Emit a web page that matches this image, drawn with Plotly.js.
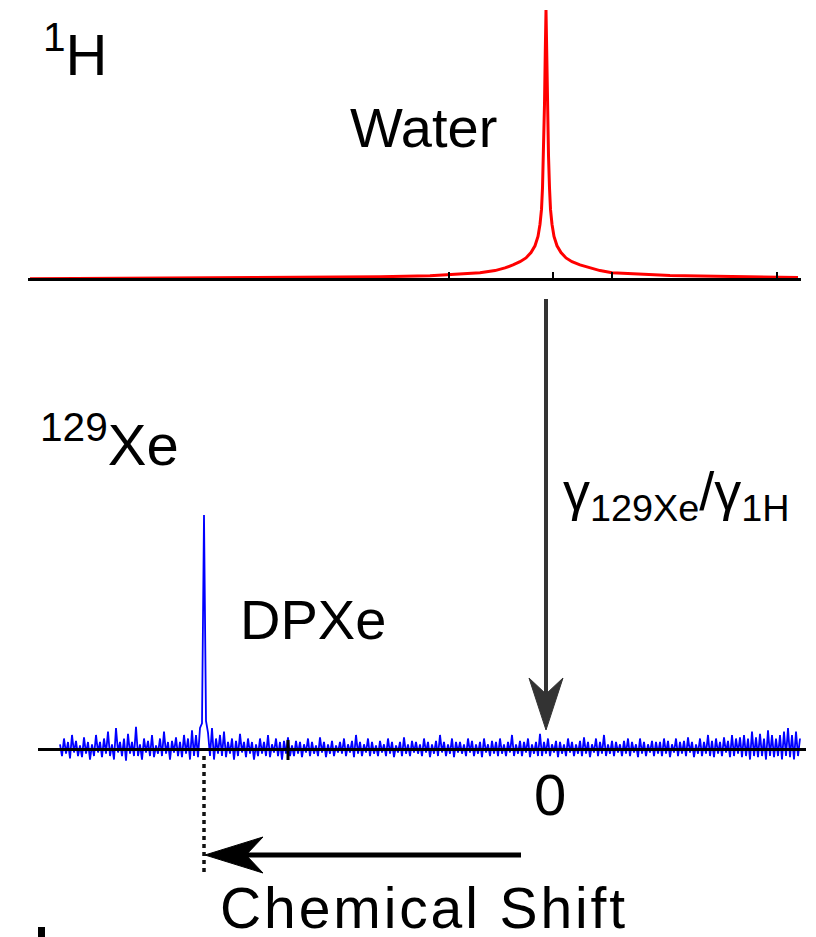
<!DOCTYPE html>
<html><head><meta charset="utf-8">
<script src="https://cdn.plot.ly/plotly-3.0.1.min.js"></script>
<style>
html,body{margin:0;padding:0;background:#fff}
#chart{width:816px;height:937px}
#chart .annotation[data-index="6"] .annotation-text{letter-spacing:2.9px}
</style>
</head><body><div id="chart"></div>
<script>
// ---- 1H spectrum: chemical shift (arb. units, 0 = water) and intensity (% of max)
const waterShift = [258, 223, 173, 123, 83, 58, 43, 33, 25.5, 20.5, 16.5, 13, 10, 7.5, 5.5, 4, 3, 2.25, 1.75, 1.25, 0.75, 0.35, 0,
  -0.35, -0.75, -1.25, -1.75, -2.25, -3, -4, -5.5, -7.5, -10, -13, -17, -22, -27, -33, -47, -62, -77, -102, -126];
const waterIntensity = [0.3, 0.4, 0.55, 0.75, 1.0, 1.4, 1.9, 2.5, 3.3, 4.3, 5.4, 6.6, 8, 10, 12.5, 16, 20.5, 26, 34, 46, 65, 85, 100,
  85, 65, 46, 34, 26, 20.5, 16, 12.5, 10, 8, 6.6, 5.4, 4.3, 3.3, 2.5, 1.9, 1.5, 1.3, 1.0, 0.7];

// ---- 129Xe spectrum: sampled every 1 unit from shift 243 downward; intensity (% of DPXe peak)
const xeShiftStart = 243;
const xeShiftStep = -1;
const xeIntensity = [
 2, -3, 4.5, -2, 3, -4, 6, -1.5, 3.5, -3, 1.5, -3.5, 5, -2, 3, -4.5, 2, -3, 6, -1.5,
 3, -3.5, 4.5, -2, 7.5, -3, 2, -4.5, 9, -1.5, 3, -3, 4.5, -5, 6.5, -2, 3, -3, 9.5, -3,
 2, -4.5, 4.5, -1.5, 3.5, -3, 6, -3.5, 1.5, -2, 4.5, -3, 7.5, -2, 3, -4.5, 3.5, -1.5, 5, -3,
 3, -3.5, 6, -2, 4.5, -4.5, 8, -3, 6, -3.5, 9, 11, 100, 12, 7, -3, 9, -4.5, 4.5, -2,
 6, -3, 7.5, -3.5, 3, -2, 4.5, -4.5, 3.5, -3, 6.5, -1.5, 3, -3.5, 4.5, -2, 3, -4.5, 2, -3,
 4.5, -2, 3, -3, 6, -3.5, 2, -1.5, 4.5, -3, 3, -4.5, 3.5, -2, 5, -3, 1.5, -3, 3.5, -2,
 3, -3.5, 2, -1.5, 4.5, -3, 3, -2, 1.5, -3, 5, -1.5, 3, -3.5, 2, -2, 3.5, -3, 1.5, -1.5,
 3, -2, 4.5, -3, 2, -1.5, 3.5, -3.5, 6, -2, 3, -3, 2, -1.5, 4.5, -3, 3, -2, 1.5, -3,
 3.5, -1.5, 2, -3, 4.5, -2, 3, -3.5, 1.5, -1.5, 3, -3, 5, -2, 2, -3, 3.5, -1.5, 3, -2,
 2, -3, 4.5, -1.5, 3, -3.5, 2, -2, 3.5, -3, 6, -1.5, 3, -3, 2, -2, 4.5, -3.5, 3, -1.5,
 3, -2, 2, -3, 4.5, -1.5, 3.5, -3, 2, -2, 3, -3.5, 4.5, -1.5, 2, -3, 3.5, -2, 3, -3,
 4.5, -2, 2, -3, 3, -1.5, 6, -3, 2, -2, 3.5, -3, 3, -1.5, 4.5, -3.5, 2, -2, 3, -3,
 6.5, -3, 3, -2, 4.5, -3, 2, -1.5, 3.5, -3.5, 3, -2, 2, -3, 4.5, -1.5, 3, -3, 2, -2,
 3.5, -3, 5, -2, 3, -3.5, 2, -1.5, 4.5, -3, 3, -2, 6, -3, 2, -2, 3.5, -3, 3, -1.5,
 2, -3, 3.5, -2, 4.5, -3, 3, -1.5, 2, -3.5, 4.5, -2, 3, -3, 2, -1.5, 3.5, -3, 3, -2,
 3, -3, 4.5, -2, 3.5, -3.5, 2, -1.5, 4.5, -3, 3, -2, 3.5, -3, 5, -1.5, 3, -3.5, 2, -2,
 4.5, -3, 3, -2, 6, -3, 3.5, -3.5, 4.5, -2, 3, -3, 5, -1.5, 3.5, -3.5, 6, -3, 4.5, -2,
 5, -3.5, 6, -3, 4.5, -4.5, 7.5, -3, 5, -3.5, 6.5, -3, 4.5, -4.5, 8, -3, 6, -3.5, 4.5, -3,
 6, -4.5, 7.5, -3, 9, -3.5, 6, -4.5, 7.5, -3, 4.5
];

// ---- axis ticks
const hTickVals = [48.5, -3.5, -33, -115.5];
const xeTickVals = [129];
const zeroLabel = '0';

// ---- texts
const labelH = '<sup>1</sup>H';
const labelWater = 'Water';
const labelXe = '<sup>129</sup>Xe';
const labelGamma = 'γ<sub>129Xe</sub>/γ<sub>1H</sub>';
const labelDPXe = 'DPXe';
const labelAxis = 'Chemical Shift';

// ---- geometry helpers (page pixels -> paper fractions / axis values)
const W = 816, H = 937;
const ZERO_PX = 546, PX_PER_UNIT = 2;
const px = x => x / W;
const py = y => 1 - y / H;
const val = p => (ZERO_PX - p) / PX_PER_UNIT;

const xeShift = xeIntensity.map((_, i) => xeShiftStart + i * xeShiftStep);
let peakIdx = 0;
xeIntensity.forEach((v, i) => { if (v > xeIntensity[peakIdx]) peakIdx = i; });
const dpxeShift = xeShift[peakIdx];

const FONT = 'Liberation Sans, Arial, Helvetica, sans-serif';

function arrowHead(tx, ty, dir, L, hw, notch) {
  let pts;
  if (dir === 'down') {
    pts = [[tx, ty], [tx - hw, ty - L], [tx, ty - L + notch], [tx + hw, ty - L]];
  } else {
    pts = [[tx, ty], [tx + L, ty - hw], [tx + L - notch, ty], [tx + L, ty + hw]];
  }
  return 'M' + pts.map(p => px(p[0]).toFixed(5) + ',' + py(p[1]).toFixed(5)).join(' L') + ' Z';
}

const traces = [
  {x: waterShift, y: waterIntensity, xaxis: 'x', yaxis: 'y', mode: 'lines',
   line: {color: '#ff0000', width: 3}, hoverinfo: 'skip'},
  {x: xeShift, y: xeIntensity, xaxis: 'x2', yaxis: 'y2', mode: 'lines',
   line: {color: '#0000ff', width: 1.8}, hoverinfo: 'skip'}
];

const axCommon = {showgrid: false, zeroline: false, showticklabels: false,
  showline: true, linecolor: '#000', anchor: 'free', fixedrange: true};

const layout = {
  width: W, height: H,
  margin: {l: 0, r: 0, t: 0, b: 0, pad: 0},
  paper_bgcolor: '#fff', plot_bgcolor: 'rgba(0,0,0,0)',
  showlegend: false,
  xaxis: Object.assign({}, axCommon, {
    domain: [px(28), px(801)], range: [val(28), val(801)],
    position: py(278.5), linewidth: 3,
    tickmode: 'array', tickvals: hTickVals, ticks: 'inside', ticklen: 6, tickwidth: 2, tickcolor: '#000'
  }),
  yaxis: {domain: [py(283), py(8)], range: [-1.3, 100.74], visible: false, fixedrange: true},
  xaxis2: Object.assign({}, axCommon, {
    domain: [px(38), px(806)], range: [val(38), val(806)],
    position: py(748.5), linewidth: 3, ticks: ''
  }),
  yaxis2: {domain: [py(770), py(512)], range: [-8.97, 101.28], visible: false, fixedrange: true},
  shapes: [
    {type: 'line', xref: 'x2', yref: 'paper', x0: xeTickVals[0], x1: xeTickVals[0],
     y0: py(740), y1: py(760), line: {color: '#000', width: 3}},
    {type: 'line', xref: 'x2', yref: 'paper', x0: dpxeShift, x1: dpxeShift,
     y0: py(756), y1: py(876), line: {color: '#111', width: 3.5, dash: '4px,4px'}},
    {type: 'line', xref: 'paper', yref: 'paper', x0: px(ZERO_PX), x1: px(ZERO_PX),
     y0: py(299), y1: py(700), line: {color: '#333', width: 4}},
    {type: 'path', xref: 'paper', yref: 'paper', path: arrowHead(ZERO_PX, 730, 'down', 52, 17, 16),
     fillcolor: '#333', line: {color: '#333', width: 1}},
    {type: 'line', xref: 'paper', yref: 'paper', x0: px(521), x1: px(245),
     y0: py(855), y1: py(855), line: {color: '#000', width: 5}},
    {type: 'path', xref: 'paper', yref: 'paper', path: arrowHead(205, 855, 'left', 58, 18, 17),
     fillcolor: '#000', line: {color: '#000', width: 1}},
    {type: 'rect', xref: 'paper', yref: 'paper', x0: px(38), x1: px(45), y0: py(927), y1: py(937),
     fillcolor: '#000', line: {width: 0}}
  ],
  annotations: [
    {text: labelH, xref: 'paper', yref: 'paper', x: px(41), y: py(89), xanchor: 'left', yanchor: 'bottom',
     showarrow: false, font: {family: FONT, size: 58, color: '#000'}},
    {text: labelWater, xref: 'paper', yref: 'paper', x: px(348), y: py(161), xanchor: 'left', yanchor: 'bottom',
     showarrow: false, font: {family: FONT, size: 56, color: '#000'}},
    {text: labelXe, xref: 'paper', yref: 'paper', x: px(38), y: py(479), xanchor: 'left', yanchor: 'bottom',
     showarrow: false, font: {family: FONT, size: 58, color: '#000'}},
    {text: labelGamma, xref: 'paper', yref: 'paper', x: px(561), y: py(531), xanchor: 'left', yanchor: 'bottom',
     showarrow: false, font: {family: FONT, size: 54, color: '#000'}},
    {text: labelDPXe, xref: 'paper', yref: 'paper', x: px(238), y: py(653), xanchor: 'left', yanchor: 'bottom',
     showarrow: false, font: {family: FONT, size: 56, color: '#000'}},
    {text: zeroLabel, xref: 'paper', yref: 'paper', x: px(550), y: py(829), xanchor: 'center', yanchor: 'bottom',
     showarrow: false, font: {family: FONT, size: 58, color: '#000'}},
    {text: labelAxis, xref: 'paper', yref: 'paper', x: px(218), y: py(874), xanchor: 'left', yanchor: 'top', align: 'left',
     showarrow: false, font: {family: FONT, size: 57, color: '#000'}}
  ]
};

Plotly.newPlot('chart', traces, layout, {staticPlot: true, displayModeBar: false});
</script>
</body></html>
